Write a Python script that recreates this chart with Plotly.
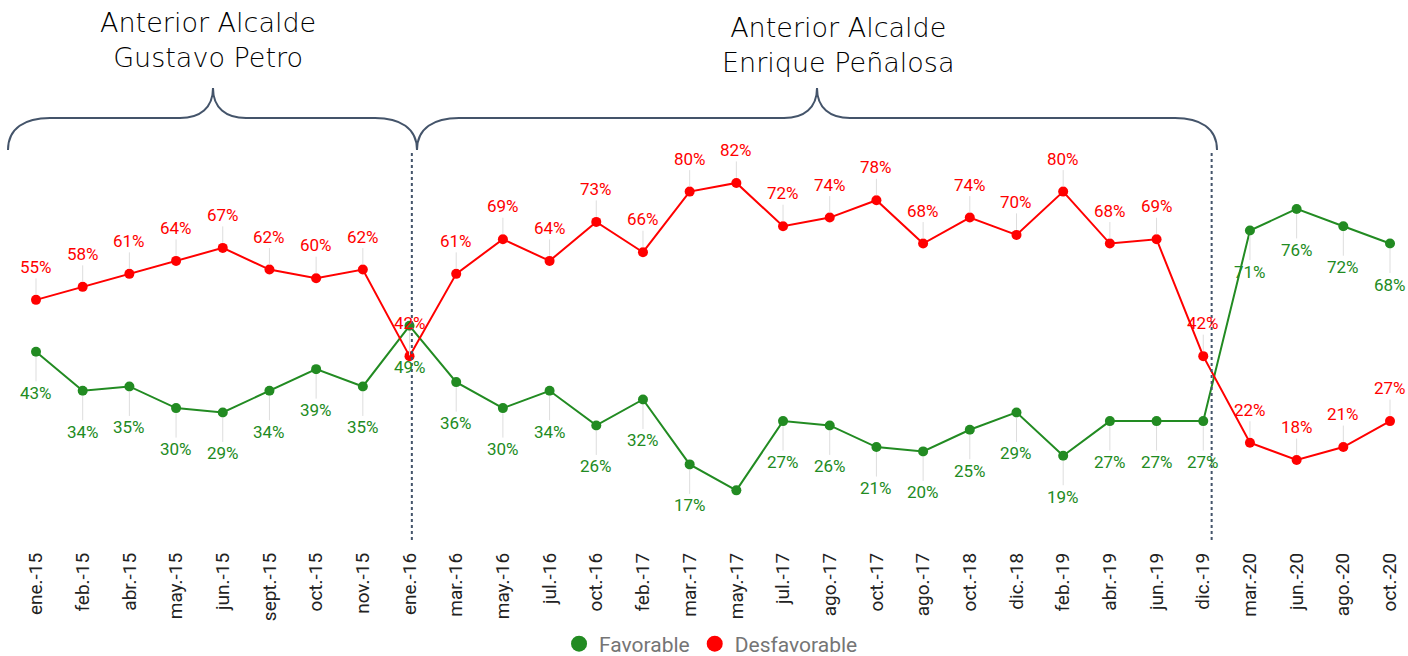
import plotly.graph_objects as go

# Survey dates (one tick per survey; "ago.-17" appears twice in the series)
fechas = ["ene.-15", "feb.-15", "abr.-15", "may.-15", "jun.-15", "sept.-15", "oct.-15",
          "nov.-15", "ene.-16", "mar.-16", "may.-16", "jul.-16", "oct.-16", "feb.-17",
          "mar.-17", "may.-17", "jul.-17", "ago.-17", "oct.-17", "ago.-17", "oct.-18",
          "dic.-18", "feb.-19", "abr.-19", "jun.-19", "dic.-19", "mar.-20", "jun.-20",
          "ago.-20", "oct.-20"]

favorable = [43, 34, 35, 30, 29, 34, 39, 35, 49, 36, 30, 34, 26, 32, 17, 11, 27, 26, 21,
             20, 25, 29, 19, 27, 27, 27, 71, 76, 72, 68]
favorable_labels = [True] * len(favorable)
favorable_labels[15] = False  # may.-17 point carries no label

desfavorable = [55, 58, 61, 64, 67, 62, 60, 62, 42, 61, 69, 64, 73, 66, 80, 82, 72, 74,
                78, 68, 74, 70, 80, 68, 69, 42, 22, 18, 21, 27]

periodos = [("Anterior Alcalde<br>Gustavo Petro", 208, 40),
            ("Anterior Alcalde<br>Enrique Peñalosa", 838, 45)]

VERDE = "#228b22"
ROJO = "#ff0000"
W, H = 1408, 656
TOP, BOTTOM = 105, 538
idx = list(range(len(fechas)))


def px(x, y):
    """pixel -> paper coordinates"""
    return x / W, (BOTTOM - y) / (BOTTOM - TOP)


def brace(x0, xm, x1, ytop=118, yend=150, ytip=88):
    pts = [
        ("M", [(x0, yend)]),
        ("C", [(x0, 128), (x0 + 17, ytop), (x0 + 42, ytop)]),
        ("L", [(xm - 33, ytop)]),
        ("C", [(xm - 13, ytop), (xm, 108), (xm, ytip)]),
        ("C", [(xm, 108), (xm + 13, ytop), (xm + 33, ytop)]),
        ("L", [(x1 - 42, ytop)]),
        ("C", [(x1 - 17, ytop), (x1, 128), (x1, yend)]),
    ]
    out = []
    for cmd, plist in pts:
        coords = " ".join("%.5f,%.5f" % px(a, b) for a, b in plist)
        out.append(cmd + " " + coords)
    return " ".join(out)


fig = go.Figure()

fig.add_trace(go.Scatter(x=idx, y=favorable, mode="lines+markers", name="Favorable",
                         line=dict(color=VERDE, width=2),
                         marker=dict(color=VERDE, size=10), showlegend=False))
fig.add_trace(go.Scatter(x=idx, y=desfavorable, mode="lines+markers", name="Desfavorable",
                         line=dict(color=ROJO, width=2),
                         marker=dict(color=ROJO, size=10), showlegend=False))

# legend entries with larger dots
fig.add_trace(go.Scatter(x=[None], y=[None], mode="markers", name="Favorable",
                         marker=dict(color=VERDE, size=17)))
fig.add_trace(go.Scatter(x=[None], y=[None], mode="markers", name="Desfavorable",
                         marker=dict(color=ROJO, size=17)))

annotations = []
lead = "#dddddd"
for i, v in enumerate(desfavorable):
    annotations.append(dict(x=i, y=v, xref="x", yref="y", text=f"{v}%",
                            showarrow=True, arrowhead=0, arrowwidth=1, arrowcolor=lead,
                            ax=0, ay=-33, standoff=5,
                            font=dict(family="Roboto", size=17, color=ROJO)))
for i, v in enumerate(favorable):
    if not favorable_labels[i]:
        continue
    annotations.append(dict(x=i, y=v, xref="x", yref="y", text=f"{v}%",
                            showarrow=True, arrowhead=0, arrowwidth=1, arrowcolor=lead,
                            ax=0, ay=41, standoff=5,
                            font=dict(family="Roboto", size=17, color=VERDE)))

for texto, cx, cy in periodos:
    x, y = px(cx, cy)
    annotations.append(dict(x=x, y=y, xref="paper", yref="paper", text=texto,
                            showarrow=False, xanchor="center", yanchor="middle",
                            font=dict(family="DejaVu Sans", size=27, color="#000000",
                                      weight=300)))

shapes = [
    dict(type="path", path=brace(8, 213, 417), xref="paper", yref="paper",
         line=dict(color="#44546a", width=2)),
    dict(type="path", path=brace(417, 817, 1217), xref="paper", yref="paper",
         line=dict(color="#44546a", width=2)),
]
for xv in (8.05, 25.18):
    y0 = px(0, 540)[1]
    y1 = px(0, 150)[1]
    shapes.append(dict(type="line", xref="x", yref="paper", x0=xv, x1=xv, y0=y0, y1=y1,
                       line=dict(color="#44546a", width=2, dash="dot")))

fig.update_layout(
    width=W, height=H,
    margin=dict(l=0, r=0, t=TOP, b=H - BOTTOM, autoexpand=False),
    paper_bgcolor="white", plot_bgcolor="white",
    xaxis=dict(range=[-36 / 46.69, (W - 36) / 46.69], tickmode="array", tickvals=idx,
               ticktext=fechas, tickangle=-90, showgrid=False, zeroline=False,
               showline=False, ticks="", ticklabelstandoff=10, automargin=False,
               tickfont=dict(family="Roboto", size=19, color="#222222")),
    yaxis=dict(range=[0, 100], visible=False, showgrid=False, zeroline=False,
               automargin=False),
    legend=dict(orientation="h", x=0.505, xanchor="center", yref="container",
                y=1 - 644 / H, yanchor="middle",
                font=dict(family="Roboto", size=21, color="#757575"),
                itemwidth=30, tracegroupgap=0),
    annotations=annotations,
    shapes=shapes,
)

fig.write_html("out.html")
